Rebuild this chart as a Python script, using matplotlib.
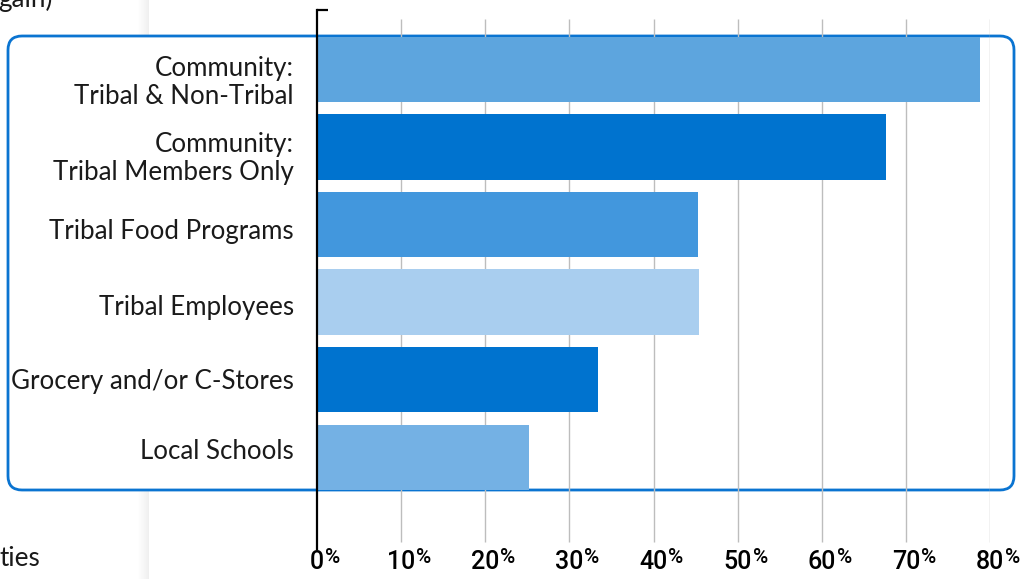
import numpy as np
import matplotlib
matplotlib.use("Agg")
import matplotlib.pyplot as plt
from matplotlib.patches import FancyBboxPatch
import matplotlib.transforms as mtransforms

categories = ["Community:\nTribal & Non-Tribal", "Community:\nTribal Members Only", "Tribal Food Programs",
              "Tribal Employees", "Grocery and/or C-Stores", "Local Schools"]
values = [78.8, 67.6, 45.3, 45.4, 33.4, 25.2]
colors = ["#5da5de", "#0073cf", "#4297dd", "#a9ceef", "#0073cf", "#74b1e4"]
ticks = [0, 10, 20, 30, 40, 50, 60, 70, 80]
tick_labels = ["0", "10", "20", "30", "40", "50", "60", "70", "80"]

# labels sit a little off the bar centres in the reference (pixels, + = down)
label_shift = [13, 12, 7, 5, 2, -6]

W, H = 1034, 579
fig = plt.figure(figsize=(W / 100, H / 100), dpi=100)

# background layer in pixel coords (shadow, surrounding text, rounded box)
bg = fig.add_axes([0, 0, 1, 1], zorder=-5)
bg.set_xlim(0, W)
bg.set_ylim(H, 0)
bg.axis("off")
grad = np.linspace(0, 1, 12).reshape(1, -1)
bg.imshow(grad, cmap="Greys", vmin=0, vmax=8, extent=(137, 149, H, 0), aspect="auto", zorder=1)
bg.text(-2, 7, "gain)", fontsize=18.8, family="Lato", color="#1a1a1a", va="baseline", ha="left")
bg.text(-1, 566, "ties", fontsize=18.8, family="Lato", color="#1a1a1a", va="baseline", ha="left")
box = FancyBboxPatch((8, 36), 1006, 454, boxstyle="round,pad=0,rounding_size=14",
                     facecolor="white", edgecolor="#0a74d1", linewidth=2, zorder=2)
bg.add_patch(box)

# main axes: 0% at x=317px, 80% at x=990px, y from 10px to 549px
ax = fig.add_axes([317 / W, (H - 549) / H, (990 - 317) / W, 539 / H])
ax.patch.set_visible(False)
ypos = np.arange(len(categories))
ax.barh(ypos, values, height=0.84, color=colors, zorder=2)
ax.set_xlim(0, 80)
ax.set_ylim(5 + 1.186, -0.767)

for s in ["top", "right", "bottom"]:
    ax.spines[s].set_visible(False)
ax.spines["left"].set_linewidth(1.6)
ax.spines["left"].set_color("black")
ax.plot([0, 0.016], [1, 1], transform=ax.transAxes, color="black", lw=1.6, clip_on=False, solid_capstyle="butt")

trans = mtransforms.blended_transform_factory(ax.transData, ax.transAxes)
ax.vlines(ticks[1:], 0.013, 0.983, transform=trans, color="#bdbdbd", lw=1.0, zorder=1)

ax.set_yticks([])
ax.set_xticks([])
for y, lab, dy in zip(ypos, categories, label_shift):
    off = mtransforms.ScaledTranslation(-23 / 100, -dy / 100, fig.dpi_scale_trans)
    ax.text(0, y, lab, transform=ax.transData + off, ha="right", va="center", fontsize=18.6,
            family="Lato", color="#1a1a1a", linespacing=1.15, multialignment="right")

# tick labels: number centred on the gridline, smaller raised "%" after it
base_y = -0.037
for t, lab in zip(ticks, tick_labels):
    num = ax.text(t, base_y, lab, transform=trans, ha="center", va="baseline", fontsize=18,
                  family="Roboto", fontweight="medium", color="black")
    ax.annotate("%", xy=(1, base_y), xycoords=(num, ax.transAxes), xytext=(0.6, 4.2),
                textcoords="offset points", ha="left", va="baseline", fontsize=15,
                family="Roboto", fontweight="medium", color="black")

fig.savefig("out.png", dpi=100)
